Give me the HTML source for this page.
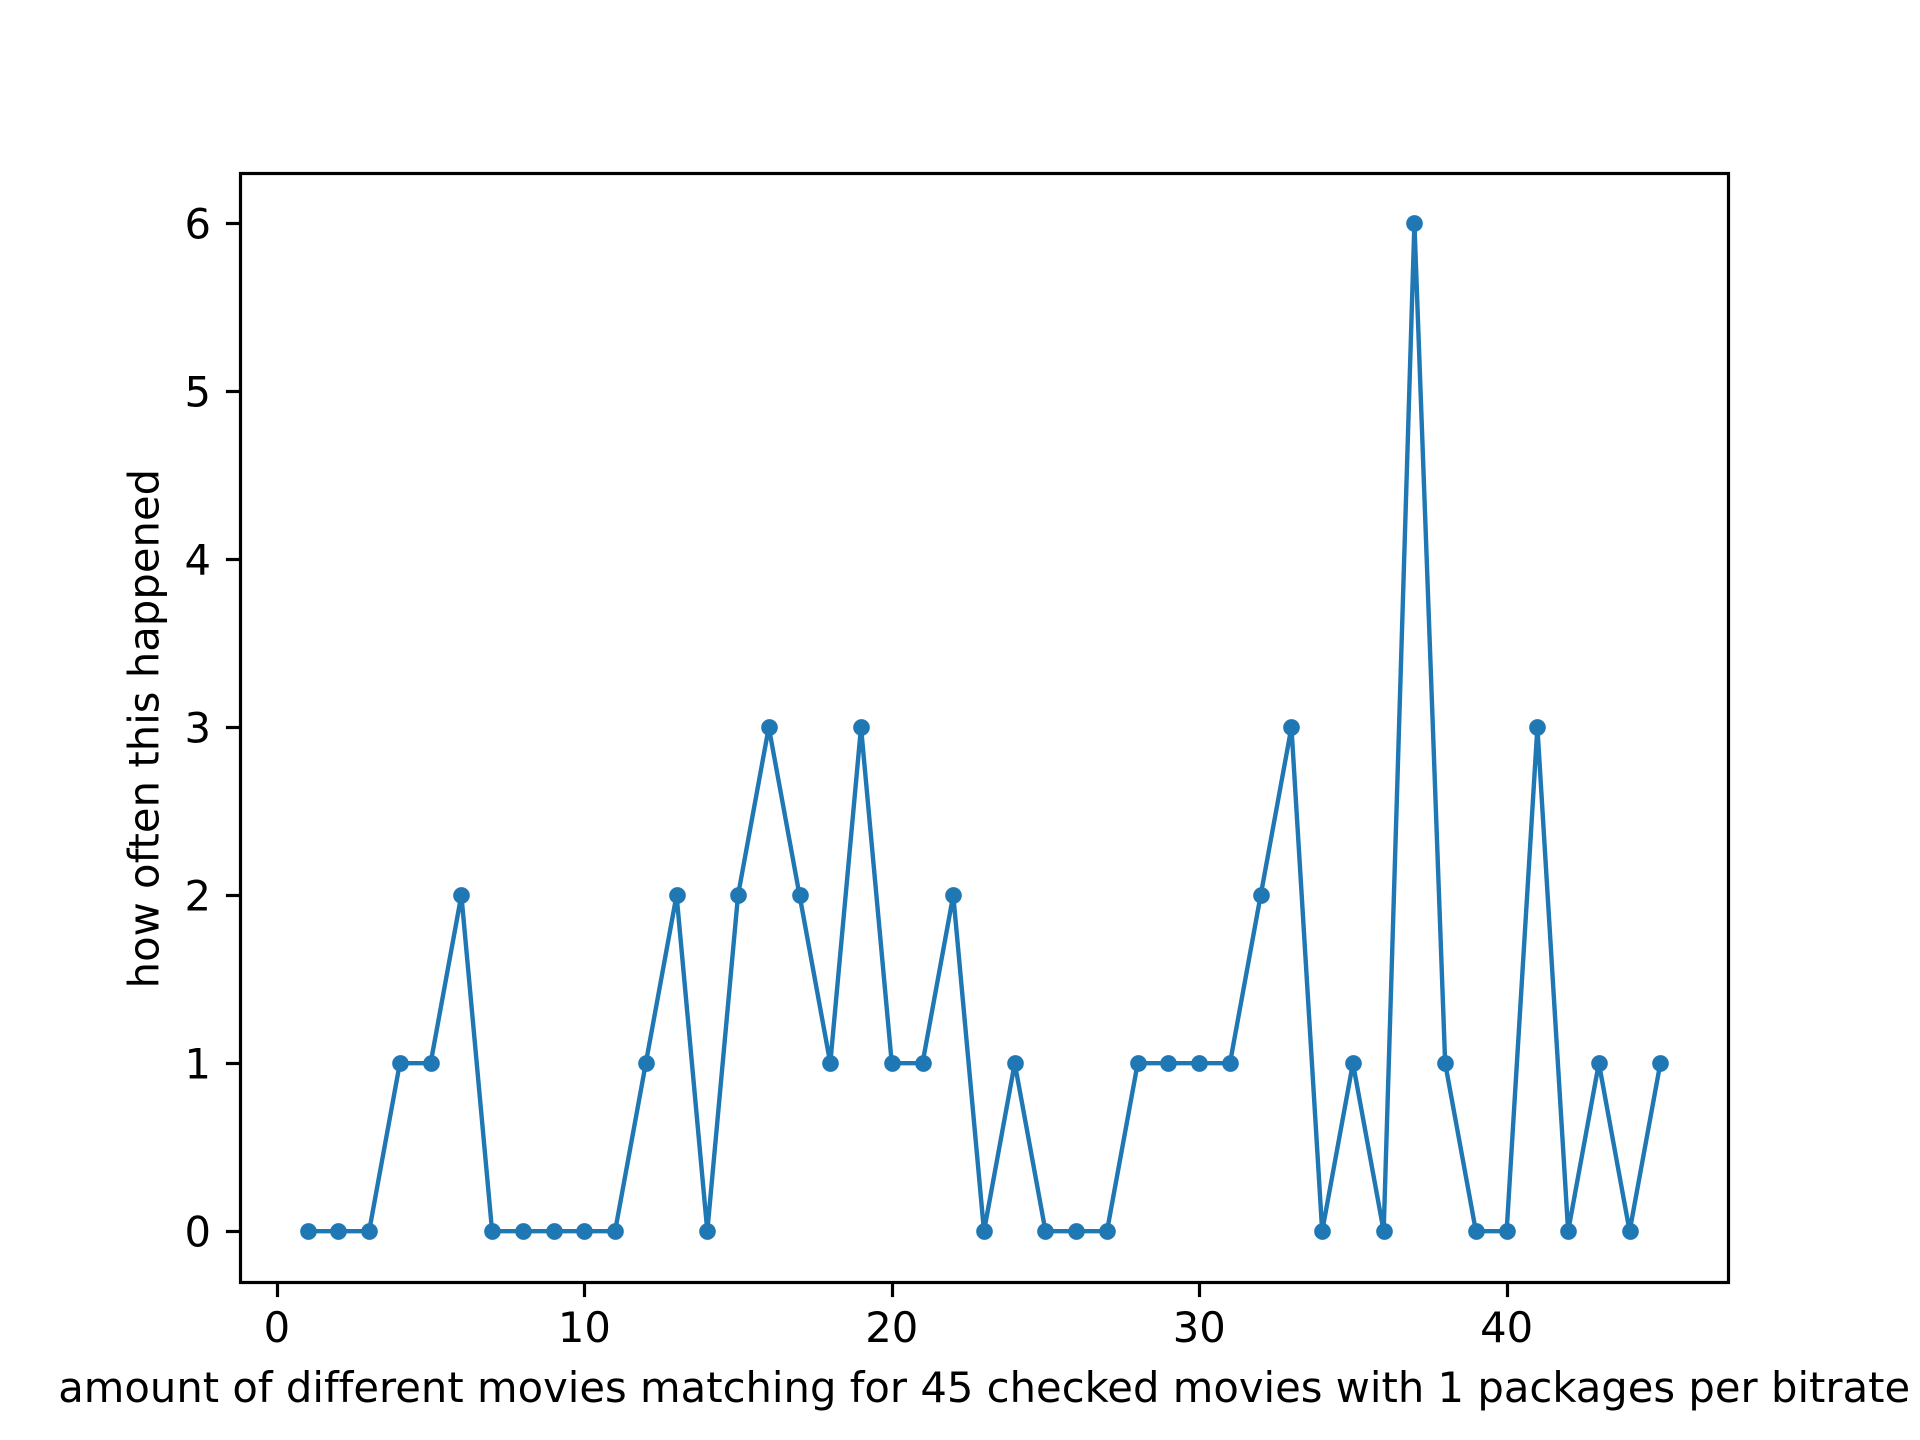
<!DOCTYPE html>
<html lang="en">
<head>
<meta charset="utf-8">
<title>Movie matches chart</title>
<style>
html,body{margin:0;padding:0;background:#fff;width:1920px;height:1440px;overflow:hidden}
svg{display:block}
text{font-family:"DejaVu Sans",sans-serif;font-size:41.67px;fill:#000}
</style>
</head>
<body>
<svg id="chart" xmlns="http://www.w3.org/2000/svg" width="1920" height="1440" viewBox="0 0 1920 1440">
  <rect x="0" y="0" width="1920" height="1440" fill="#fff"/>
  <g id="series"></g>
  <g id="axes"></g>
  <text x="984.2" y="1402" text-anchor="middle" style="letter-spacing:0.03px">amount of different movies matching for 45 checked movies with 1 packages per bitrate</text>
  <text x="0" y="0" text-anchor="middle" style="letter-spacing:0.05px" transform="translate(158.6 728.6) rotate(-90)">how often this happened</text>
</svg>
<script>
const categories = [1,2,3,4,5,6,7,8,9,10,11,12,13,14,15,16,17,18,19,20,21,22,23,24,25,26,27,28,29,30,31,32,33,34,35,36,37,38,39,40,41,42,43,44,45];
const occurrences = [0,0,0,1,1,2,0,0,0,0,0,1,2,0,2,3,2,1,3,1,1,2,0,1,0,0,0,1,1,1,1,2,3,0,1,0,6,1,0,0,3,0,1,0,1];
const xTickLabels = [0,10,20,30,40];
const yTickLabels = [0,1,2,3,4,5,6];

const NS = 'http://www.w3.org/2000/svg';
const plotLeft = 240, plotRight = 1728, plotTop = 172.8, plotBottom = 1281.6;
const xMin = Math.min(...categories), xMax = Math.max(...categories);
const yMin = Math.min(...occurrences), yMax = Math.max(...occurrences);
const xPad = (xMax - xMin) * 0.05, yPad = (yMax - yMin) * 0.05;

function xScale(v){
  return plotLeft + (v - (xMin - xPad)) / ((xMax + xPad) - (xMin - xPad)) * (plotRight - plotLeft);
}
function yScale(v){
  return plotBottom - (v - (yMin - yPad)) / ((yMax + yPad) - (yMin - yPad)) * (plotBottom - plotTop);
}
function snap(v){
  return Math.round(v) + 0.5;
}
function make(tag, attrs){
  const el = document.createElementNS(NS, tag);
  for (const k in attrs) el.setAttribute(k, attrs[k]);
  return el;
}

const seriesGroup = document.getElementById('series');
const axesGroup = document.getElementById('axes');

const points = categories.map((c, i) => xScale(c).toFixed(2) + ',' + yScale(occurrences[i]).toFixed(2)).join(' ');
const line = make('polyline', {points: points, fill: 'none', stroke: '#1f77b4', 'stroke-width': 4.4, 'stroke-linejoin': 'round'});


seriesGroup.appendChild(line);

categories.forEach((c, i) => {
  const dot = make('circle', {cx: snap(xScale(c)), cy: snap(yScale(occurrences[i])), r: 8.33, fill: '#1f77b4'});
  
  
  seriesGroup.appendChild(dot);
});

xTickLabels.forEach(t => {
  const x = xScale(t);
  const tick = make('line', {x1: snap(x), x2: snap(x), y1: snap(plotBottom), y2: snap(plotBottom) + 14.58, stroke: '#000', 'stroke-width': 3.2});
  
  
  axesGroup.appendChild(tick);
  const label = make('text', {x: x, y: 1342, 'text-anchor': 'middle'});
  label.textContent = t;
  
  
  axesGroup.appendChild(label);
});

yTickLabels.forEach(t => {
  const y = yScale(t);
  const tick = make('line', {x1: snap(plotLeft) - 14.58, x2: snap(plotLeft), y1: snap(y), y2: snap(y), stroke: '#000', 'stroke-width': 3.2});
  
  
  axesGroup.appendChild(tick);
  const label = make('text', {x: 211, y: y + 15.2, 'text-anchor': 'end'});
  label.textContent = t;
  
  
  axesGroup.appendChild(label);
});

const frame = make('rect', {x: snap(plotLeft), y: snap(plotTop), width: snap(plotRight) - snap(plotLeft), height: snap(plotBottom) - snap(plotTop), fill: 'none', stroke: '#000', 'stroke-width': 3.2});


axesGroup.appendChild(frame);
</script>
</body>
</html>
